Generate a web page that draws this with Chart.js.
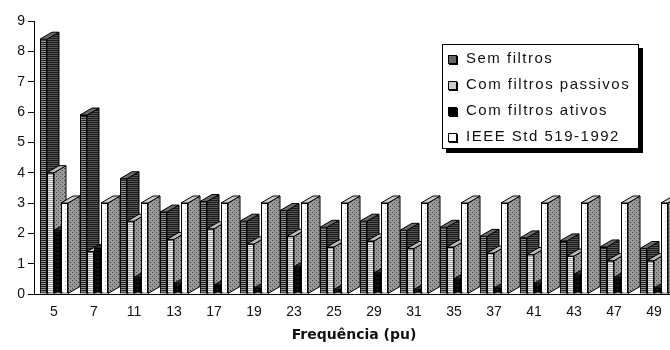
<!DOCTYPE html>
<html>
<head>
<meta charset="utf-8">
<script src="https://cdn.jsdelivr.net/npm/chart.js@4"></script>
<style>
  html, body { margin: 0; padding: 0; background: #fff; }
  #wrap { position: relative; width: 670px; height: 350px; overflow: hidden; }
  #harm { position: absolute; left: 0; top: 0; }
  #legend {
    position: absolute; left: 442px; top: 44px; width: 195px; height: 103px;
    border: 1px solid #000; box-shadow: 4px 4px 0 #000; background: #fff;
    font: 15px "Liberation Sans", Arial, sans-serif; letter-spacing: 1.5px; color: #111;
  }
  #legend div { height: 26px; line-height: 26px; position: relative; padding-left: 23px; white-space: nowrap; }
  #legend span {
    position: absolute; left: 5px; top: 10px; width: 7px; height: 7px;
    border: 1px solid #000; box-shadow: 1px 1px 0 #000;
  }
</style>
</head>
<body>
<div id="wrap">
  <canvas id="harm" width="680" height="350"></canvas>
  <div id="legend"></div>
</div>
<script>
// harmonic orders
const categories = ['5', '7', '11', '13', '17', '19', '23', '25', '29', '31', '35', '37', '41', '43', '47', '49'];

const seriesNames = ['Sem filtros', 'Com filtros passivos', 'Com filtros ativos', 'IEEE Std 519-1992'];

const semFiltros = [8.4, 5.9, 3.8, 2.7, 3.05, 2.4, 2.75, 2.2, 2.4, 2.1, 2.2, 1.9, 1.85, 1.75, 1.55, 1.5];
const filtrosPassivos = [4.0, 1.4, 2.4, 1.8, 2.15, 1.65, 1.9, 1.55, 1.75, 1.5, 1.55, 1.35, 1.3, 1.25, 1.1, 1.1];
const filtrosAtivos = [2.1, 1.5, 0.55, 0.35, 0.3, 0.2, 0.9, 0.15, 0.7, 0.15, 0.5, 0.2, 0.35, 0.65, 0.55, 0.2];
const ieeeLimite = [3, 3, 3, 3, 3, 3, 3, 3, 3, 3, 3, 3, 3, 3, 3, 3];

const yTicks = [0, 1, 2, 3, 4, 5, 6, 7, 8, 9];

const DX = 12, DY = -7;

// little bitmap fills to imitate the printed hatching
function pattern(bg, fg, kind) {
  const c = document.createElement('canvas');
  c.width = 4; c.height = 4;
  const g = c.getContext('2d');
  g.fillStyle = bg; g.fillRect(0, 0, 4, 4);
  g.fillStyle = fg;
  if (kind === 'lines') { g.fillRect(0, 0, 4, 1); g.fillRect(0, 2, 4, 1); }
  if (kind === 'dots') { g.fillRect(0, 0, 1, 1); g.fillRect(2, 2, 1, 1); }
  if (kind === 'sparse') { g.fillRect(1, 1, 1, 1); }
  return g.createPattern(c, 'repeat');
}

const looks = [
  { front: pattern('#8c8c8c', '#222', 'lines'), side: pattern('#555', '#1a1a1a', 'lines'), top: '#6a6a6a', sw: '#666' },
  { front: pattern('#f0f0f0', '#9a9a9a', 'lines'), side: pattern('#9a9a9a', '#444', 'dots'), top: '#bbb', sw: '#ccc' },
  { front: pattern('#050505', '#444', 'sparse'), side: pattern('#111', '#555', 'sparse'), top: '#333', sw: '#000' },
  { front: pattern('#fff', '#bbb', 'sparse'), side: pattern('#999', '#444', 'dots'), top: '#ccc', sw: '#fff' }
];

// chart.js would paint dataset 0 last; paint them back-to-front ourselves,
// each bar element followed by its side and top faces
const depth3d = {
  id: 'depth3d',
  beforeDatasetDraw() { return false; },
  afterDatasetsDraw(chart) {
    const ctx = chart.ctx;
    ctx.save();
    ctx.lineWidth = 1;
    ctx.strokeStyle = '#000';
    chart.data.datasets.forEach((ds, i) => {
      const look = looks[i];
      chart.getDatasetMeta(i).data.forEach(bar => {
        bar.draw(ctx);
        const p = bar.getProps(['x', 'y', 'base', 'width'], true);
        const l = p.x - p.width / 2, r = p.x + p.width / 2;
        ctx.beginPath();
        ctx.moveTo(r, p.y);
        ctx.lineTo(r + DX, p.y + DY);
        ctx.lineTo(r + DX, p.base + DY);
        ctx.lineTo(r, p.base);
        ctx.closePath();
        ctx.fillStyle = look.side;
        ctx.fill();
        ctx.stroke();
        ctx.beginPath();
        ctx.moveTo(l, p.y);
        ctx.lineTo(l + DX, p.y + DY);
        ctx.lineTo(r + DX, p.y + DY);
        ctx.lineTo(r, p.y);
        ctx.closePath();
        ctx.fillStyle = look.top;
        ctx.fill();
        ctx.stroke();
      });
    });
    ctx.restore();
  }
};

const values = [semFiltros, filtrosPassivos, filtrosAtivos, ieeeLimite];

const datasets = values.map((v, i) => ({
  label: seriesNames[i],
  data: v,
  backgroundColor: looks[i].front,
  borderColor: '#000',
  borderWidth: 1,
  borderSkipped: false,
  categoryPercentage: 0.7,
  barPercentage: 1
}));

new Chart(document.getElementById('harm'), {
  type: 'bar',
  data: { labels: categories, datasets: datasets },
  plugins: [depth3d],
  options: {
    responsive: false,
    devicePixelRatio: 1,
    animation: false,
    layout: { padding: { top: 21, right: 6, bottom: 0, left: 0 } },
    plugins: { legend: { display: false }, tooltip: { enabled: false } },
    scales: {
      x: {
        grid: { display: false, drawTicks: false },
        border: { display: true, color: '#000', width: 1 },
        ticks: { color: '#111', padding: 10, maxRotation: 0, font: { family: 'Liberation Sans', size: 14 } },
        title: {
          display: true, text: 'Frequência (pu)', color: '#111',
          font: { family: 'DejaVu Sans', size: 14, weight: 'bold' },
          padding: { top: 0, bottom: 6 }
        },
        afterFit: s => { s.height = 56; }
      },
      y: {
        min: 0, max: 9,
        afterBuildTicks: s => { s.ticks = yTicks.map(v => ({ value: v })); },
        grid: { drawOnChartArea: false, tickLength: 6, color: '#000' },
        border: { display: true, color: '#000', width: 1 },
        ticks: { color: '#111', padding: 3, font: { family: 'Liberation Sans', size: 14 } },
        afterFit: s => { s.width = 34; }
      }
    }
  }
});

// legend box drawn as html, from the series names
const legend = document.getElementById('legend');
seriesNames.forEach((name, i) => {
  const row = document.createElement('div');
  const sw = document.createElement('span');
  sw.style.background = looks[i].sw;
  row.appendChild(sw);
  row.appendChild(document.createTextNode(name));
  legend.appendChild(row);
});
</script>
</body>
</html>
